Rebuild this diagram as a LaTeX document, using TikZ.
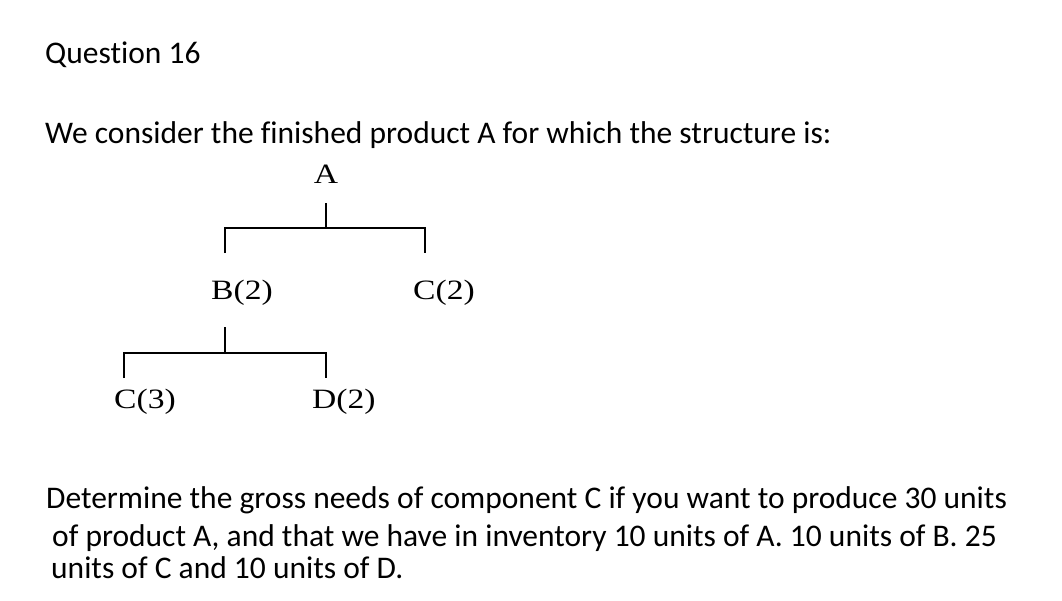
\documentclass[tikz,border=0pt]{standalone}
\usepackage{fontspec}
\setmainfont{Carlito}[Ligatures=NoCommon]
\newfontfamily\treefont{Liberation Serif}[FakeStretch=1.2]
\usepackage{tikz}

\tikzset{
  txt/.style={anchor=base west, inner sep=0pt, font=\fontsize{31.5}{36}\selectfont},
  part/.style={anchor=base west, inner sep=0pt, font=\treefont\fontsize{28}{32}\selectfont},
  bom/.style={line width=2pt}
}

\begin{document}
\begin{tikzpicture}[x=1pt, y=-1pt]
        \useasboundingbox (0,0) rectangle (1062,600);
        \node[txt] (title) at (45,63) {Question 16};
        \node[txt] (intro) at (45,143) {We consider the finished product A for which the structure is:};
        % structure tree
        \node[part, anchor=base] (A) at (326,183) {A};
        \node[part] (B) at (211,299) {B(2)};
        \node[part] (C2) at (413,299) {C(2)};
        \node[part] (C3) at (114,408) {C(3)};
        \node[part] (D) at (312,408) {D(2)};
        \coordinate (A-stem) at (326,203);
        \coordinate (A-bar) at (326,228);
        \coordinate (B-top) at (225,253);
        \coordinate (C2-top) at (425,253);
        \coordinate (B-stem) at (225,327);
        \coordinate (B-bar) at (225,353);
        \coordinate (C3-top) at (124,378);
        \coordinate (D-top) at (326,378);
        \draw[bom] (A-stem) -- (A-bar);
        \draw[bom] (B-top) |- (A-bar) -| (C2-top);
        \draw[bom] (B-stem) -- (B-bar);
        \draw[bom] (C3-top) |- (B-bar) -| (D-top);
        % question
        \node[txt] (q1) at (46,508) {Determine the gross needs of component C if you want to produce 30 units};
        \node[txt] (q2) at (52,546) {of product A, and that we have in inventory 10 units of A. 10 units of B. 25};
        \node[txt] (q3) at (51,578) {units of C and 10 units of D.};
    \end{tikzpicture}
\end{document}
